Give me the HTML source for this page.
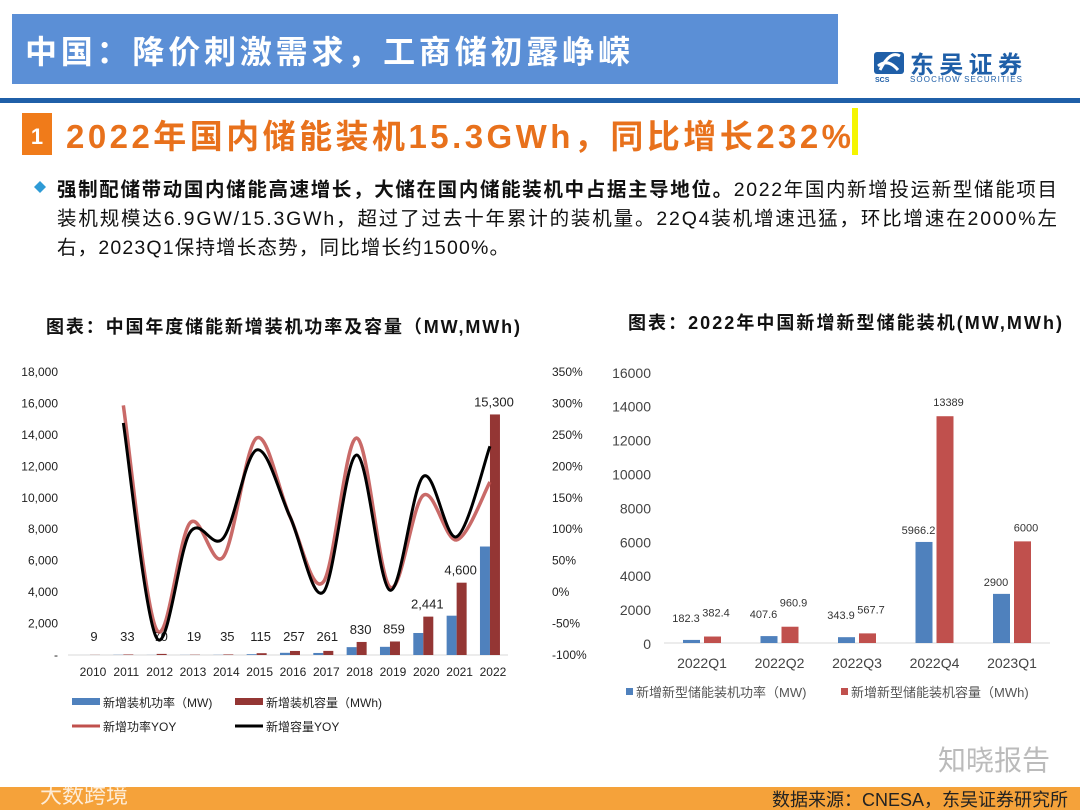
<!DOCTYPE html>
<html><head><meta charset="utf-8">
<style>
html,body{margin:0;padding:0;background:#fff;}
svg{display:block;font-family:"Liberation Sans","Noto Sans CJK SC",sans-serif;}
</style></head>
<body>
<svg id="page" width="1080" height="810" viewBox="0 0 1080 810" xmlns="http://www.w3.org/2000/svg">
  <rect x="12" y="14" width="826" height="70" fill="#5b8fd6"/>
  <text x="25" y="63" font-size="32" font-weight="bold" fill="#fff" textLength="605">中国：降价刺激需求，工商储初露峥嵘</text>
  <g>
    <rect x="874" y="52" width="30" height="22" rx="3" fill="#1f5fa8"/>
    <path d="M880 70 Q890 50 900 56 M878 66 Q888 58 898 70" stroke="#fff" stroke-width="3" fill="none"/>
    <text x="875" y="82" font-size="7" font-weight="bold" fill="#1f5fa8">SCS</text>
    <text x="910" y="73" font-size="24" font-weight="bold" fill="#1f5fa8" textLength="112">东吴证券</text>
    <text x="910" y="82" font-size="8" fill="#1f5fa8" textLength="112">SOOCHOW SECURITIES</text>
  </g>
  <rect x="0" y="98" width="1080" height="5" fill="#1f5fa8"/>
  <rect x="22" y="113" width="30" height="42" fill="#f07b1a"/>
  <text x="37" y="144" font-size="22" font-weight="bold" fill="#fff" text-anchor="middle">1</text>
  <text x="66" y="148" font-size="33" font-weight="bold" fill="#e8711c" textLength="785">2022年国内储能装机15.3GWh，同比增长232%</text>
  <rect x="852" y="108" width="6" height="47" fill="#f5f500"/>
  <path d="M34 187 l6 -6 l6 6 l-6 6z" fill="#2e9bd6"/>
  <g font-size="19.5" fill="#111">
    <text x="57" y="196" textLength="1000"><tspan font-weight="bold">强制配储带动国内储能高速增长，大储在国内储能装机中占据主导地位。</tspan>2022年国内新增投运新型储能项目</text>
    <text x="57" y="225" textLength="1000">装机规模达6.9GW/15.3GWh，超过了过去十年累计的装机量。22Q4装机增速迅猛，环比增速在2000%左</text>
    <text x="57" y="254" textLength="452">右，2023Q1保持增长态势，同比增长约1500%。</text>
  </g>
  <text x="46" y="333" font-size="18" font-weight="bold" fill="#111" textLength="474">图表：中国年度储能新增装机功率及容量（MW,MWh)</text>
  <text x="628" y="329" font-size="18" font-weight="bold" fill="#111" textLength="434">图表：2022年中国新增新型储能装机(MW,MWh)</text>
  <g id="left-chart"></g>
  <g id="right-chart"></g>
  <text x="938" y="770" font-size="28" fill="#bbb">知晓报告</text>
  <rect x="0" y="787" width="1080" height="23" fill="#f5a23a"/>
  <text x="40" y="803" font-size="22" fill="#fff" opacity="0.8">大数跨境</text>
  <text x="1068" y="806" font-size="18" fill="#222" text-anchor="end">数据来源：CNESA，东吴证券研究所</text>
</svg>
<script>
const NS='http://www.w3.org/2000/svg';
const years=['2010','2011','2012','2013','2014','2015','2016','2017','2018','2019','2020','2021','2022'];
const powerMW=[1,12,5,7,10,50,140,130,500,520,1400,2500,6900];
const capacityMWh=[9,33,70,19,35,115,257,261,830,859,2441,4600,15300];
const capacityLabels=['9','33','70','19','35','115','257','261','830','859','2,441','4,600','15,300'];
const powerYoy=[null,297,-60,110,56,245,120,16,245,8,154,83,175];
const capacityYoy=[null,269,-73,95,86,226,120,0,218,3,184,88,232];
const leftTicks=['-','2,000','4,000','6,000','8,000','10,000','12,000','14,000','16,000','18,000'];
const rightTicks=['-100%','-50%','0%','50%','100%','150%','200%','250%','300%','350%'];
const quarters=['2022Q1','2022Q2','2022Q3','2022Q4','2023Q1'];
const qPower=[182.3,407.6,343.9,5966.2,2900];
const qCapacity=[382.4,960.9,567.7,13389,6000];
const qTicks=['0','2000','4000','6000','8000','10000','12000','14000','16000'];

function el(tag,attrs,parent,txt){const e=document.createElementNS(NS,tag);for(const k in attrs)e.setAttribute(k,attrs[k]);if(txt!==undefined)e.textContent=txt;parent.appendChild(e);return e;}

// LEFT CHART
const L=document.getElementById('left-chart');
const ly=v=>655-v/18000*283;
const lyr=p=>655-(p+100)/450*283;
const lx=i=>90+i*33.33;
leftTicks.forEach((t,i)=>{const e=el('text',{x:58,y:655-i*31.44+4,'font-size':12,'text-anchor':'end',fill:'#222'},L,t);

});
rightTicks.forEach((t,i)=>{const e=el('text',{x:552,y:655-i*31.44+4,'font-size':12,fill:'#222'},L,t);

});
el('line',{x1:68,y1:655,x2:508,y2:655,stroke:'#d9d9d9'},L);
years.forEach((y,i)=>{
  const bw=10;
  const b1=el('rect',{x:lx(i)-bw,y:ly(powerMW[i]),width:bw,height:655-ly(powerMW[i]),fill:'#4f81bd'},L);
  
  
  const b2=el('rect',{x:lx(i),y:ly(capacityMWh[i]),width:bw,height:655-ly(capacityMWh[i]),fill:'#943634'},L);
  
  
  const t=el('text',{x:lx(i)+3,y:672+4,'font-size':12,'text-anchor':'middle',fill:'#222'},L,y);
  
  
  const lblY=Math.min(ly(capacityMWh[i])-8,641);
  const lb=el('text',{x:lx(i)+4,y:lblY,'font-size':13,'text-anchor':'middle',fill:'#222'},L,capacityLabels[i]);
  
  
});
function smooth(vals){
  const pts=[];vals.forEach((v,i)=>{if(v!==null)pts.push([lx(i),lyr(v)]);});
  let d='M'+pts[0][0]+' '+pts[0][1];
  for(let i=0;i<pts.length-1;i++){
    const p0=pts[i-1]||pts[i],p1=pts[i],p2=pts[i+1],p3=pts[i+2]||p2;
    const c1=[p1[0]+(p2[0]-p0[0])/6,p1[1]+(p2[1]-p0[1])/6];
    const c2=[p2[0]-(p3[0]-p1[0])/6,p2[1]-(p3[1]-p1[1])/6];
    d+=` C${c1[0]} ${c1[1]} ${c2[0]} ${c2[1]} ${p2[0]} ${p2[1]}`;
  }
  return d;
}
const pl=el('path',{d:smooth(powerYoy),stroke:'#c0504d',opacity:0.85,'stroke-width':3.5,fill:'none'},L);


const cl=el('path',{d:smooth(capacityYoy),stroke:'#000','stroke-width':3,fill:'none'},L);


// left legend
const legL=[['rect','#4f81bd',148,702,'新增装机功率（MW)'],['rect','#943634',311,702,'新增装机容量（MWh)'],['line','#c0504d',148,726,'新增功率YOY'],['line','#000',311,726,'新增容量YOY']];
legL.forEach(a=>{
  const g=el('g',{},L);
  
  
  if(a[0]==='rect')el('rect',{x:a[2]-76,y:a[3]-4,width:28,height:7,fill:a[1]},g);
  else el('line',{x1:a[2]-76,y1:a[3],x2:a[2]-48,y2:a[3],stroke:a[1],'stroke-width':3},g);
  el('text',{x:a[2]-45,y:a[3]+5,'font-size':12,fill:'#222'},g,a[4]);
});

// RIGHT CHART
const R=document.getElementById('right-chart');
const ry=v=>643-v/16000*271;
const rx=i=>702+i*77.5;
qTicks.forEach((t,i)=>{const e=el('text',{x:651,y:643-i*33.9+6,'font-size':14,'text-anchor':'end',fill:'#444'},R,t);

});
el('line',{x1:664,y1:643,x2:1050,y2:643,stroke:'#d9d9d9'},R);
quarters.forEach((q,i)=>{
  const b1=el('rect',{x:rx(i)-19,y:ry(qPower[i]),width:17,height:643-ry(qPower[i]),fill:'#4f81bd'},R);
  
  
  const b2=el('rect',{x:rx(i)+2,y:ry(qCapacity[i]),width:17,height:643-ry(qCapacity[i]),fill:'#c0504d'},R);
  
  
  const t=el('text',{x:rx(i),y:668,'font-size':14,'text-anchor':'middle',fill:'#444'},R,q);
  
  
  const small=qCapacity[i]<2000;
  const v1=el('text',{x:rx(i)-16,y:Math.min(ry(qPower[i])-8,ry(qPower[i])-(small?18:8)),'font-size':11,'text-anchor':'middle',fill:'#333'},R,String(qPower[i]));
  
  
  const v2=el('text',{x:rx(i)+14,y:ry(qCapacity[i])-(small?20:10),'font-size':11,'text-anchor':'middle',fill:'#333'},R,String(qCapacity[i]));
  
  
});
const legR=[['#4f81bd',626,'新增新型储能装机功率（MW)'],['#c0504d',841,'新增新型储能装机容量（MWh)']];
legR.forEach(a=>{
  const g=el('g',{},R);
  
  
  el('rect',{x:a[1],y:688,width:7,height:7,fill:a[0]},g);
  el('text',{x:a[1]+10,y:697,'font-size':13,fill:'#555'},g,a[2]);
});
</script>
</body></html>
